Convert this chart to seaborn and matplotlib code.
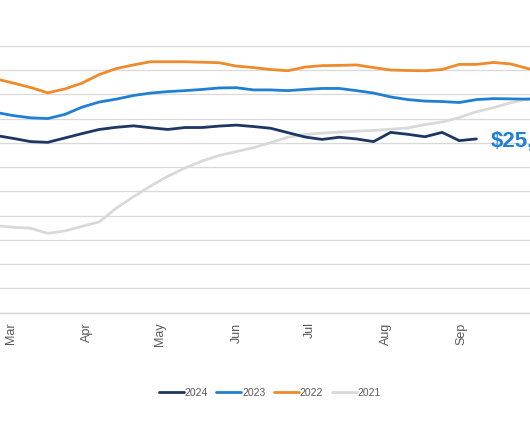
# ==========================================
# IMPORT LIBRARIES
# ==========================================

import pandas as pd
import matplotlib
matplotlib.use("Agg")
import matplotlib.pyplot as plt
import matplotlib.dates as mdates
import seaborn as sns

# ==========================================
# DATA (weekly averages)
# ==========================================

week_start = "2024-02-17"

years = ["2024", "2023", "2022", "2021"]

values_2024 = [25400, 25300, 25180, 25050, 25020, 25200, 25380, 25550, 25640, 25700,
               25620, 25550, 25630, 25630, 25690, 25730, 25670, 25600, 25420, 25240,
               25140, 25230, 25160, 25050, 25430, 25350, 25250, 25430, 25090, 25160]

values_2023 = [26350, 26250, 26120, 26030, 26000, 26170, 26470, 26680, 26800, 26950,
               27050, 27110, 27150, 27200, 27260, 27270, 27180, 27180, 27150, 27200,
               27240, 27240, 27150, 27050, 26890, 26780, 26720, 26700, 26660, 26780,
               26820, 26810, 26800, 26800]

values_2022 = [27790, 27630, 27460, 27280, 27060, 27220, 27460, 27810, 28060, 28210,
               28340, 28340, 28340, 28320, 28300, 28160, 28100, 28020, 27970, 28120,
               28180, 28190, 28210, 28100, 28000, 27980, 27970, 28020, 28230, 28230,
               28310, 28250, 28060, 27920]

values_2021 = [21610, 21590, 21520, 21480, 21270, 21370, 21560, 21740, 22310, 22780,
               23220, 23620, 23960, 24250, 24480, 24640, 24800, 25010, 25230, 25340,
               25400, 25440, 25480, 25510, 25560, 25610, 25750, 25860, 26040, 26280,
               26450, 26650, 26810, 26970]

callout_text = "$25,160"

colors = {"2024": "#1d3764", "2023": "#1f80d3", "2022": "#ef8a2b", "2021": "#d9d9d9"}

series = {"2024": values_2024, "2023": values_2023, "2022": values_2022, "2021": values_2021}

# ==========================================
# LONG FORMAT TABLE
# ==========================================

frames = []
for year in years:
    vals = series[year]
    frames.append(pd.DataFrame({
        "Week": pd.date_range(week_start, periods=len(vals), freq="7D"),
        "Price": vals,
        "Year": year,
    }))
df = pd.concat(frames, ignore_index=True)

# ==========================================
# PLOT
# ==========================================

sns.set_theme(style="white")
plt.rcParams["font.family"] = ["Liberation Sans", "DejaVu Sans"]

fig = plt.figure(figsize=(5.3, 4.42), dpi=100)
ax = fig.add_axes([0, 0.2925, 1, 0.6315])

# older years first so 2024 sits on top
for year in years[::-1]:
    sns.lineplot(
        data=df[df["Year"] == year],
        x="Week",
        y="Price",
        color=colors[year],
        linewidth=2,
        label=year,
        ax=ax
    )

ax.set_ylim(18000, 29500)
ax.set_yticks(range(18000, 29001, 1000))
ax.set_xlim(pd.Timestamp("2024-02-25 12:00"), pd.Timestamp("2024-09-28 21:00"))

ax.xaxis.set_major_locator(mdates.MonthLocator())
ax.xaxis.set_major_formatter(mdates.DateFormatter("%b"))

ax.grid(axis="y", color="#d9d9d9", linewidth=0.9)
ax.grid(axis="x", visible=False)
for side in ["left", "right", "top"]:
    ax.spines[side].set_visible(False)
ax.spines["bottom"].set_color("#d0d0d0")
ax.spines["bottom"].set_linewidth(0.9)

ax.tick_params(axis="y", left=False, labelleft=False)
ax.tick_params(axis="x", bottom=False, labelsize=9, labelcolor="#595959", pad=1, rotation=90)
ax.set_xlabel("")
ax.set_ylabel("")

# callout for the latest 2024 value (runs off the right edge as in the source)
last = df[df["Year"] == "2024"].iloc[-1]
ax.annotate(
    callout_text,
    xy=(last["Week"], last["Price"]),
    xytext=(10, 0),
    textcoords="offset points",
    va="center_baseline",
    ha="left",
    fontsize=16,
    fontweight="bold",
    color="#1f80d3",
    annotation_clip=False
)

handles, labels = ax.get_legend_handles_labels()
ax.get_legend().remove()
fig.legend(
    handles[::-1],
    labels[::-1],
    loc="center",
    bbox_to_anchor=(0.509, 0.111),
    ncol=4,
    frameon=False,
    fontsize=7.5,
    labelcolor="#595959",
    handlelength=2.4,
    handletextpad=0.1,
    columnspacing=0.8
)

fig.savefig("out.png", dpi=100)
